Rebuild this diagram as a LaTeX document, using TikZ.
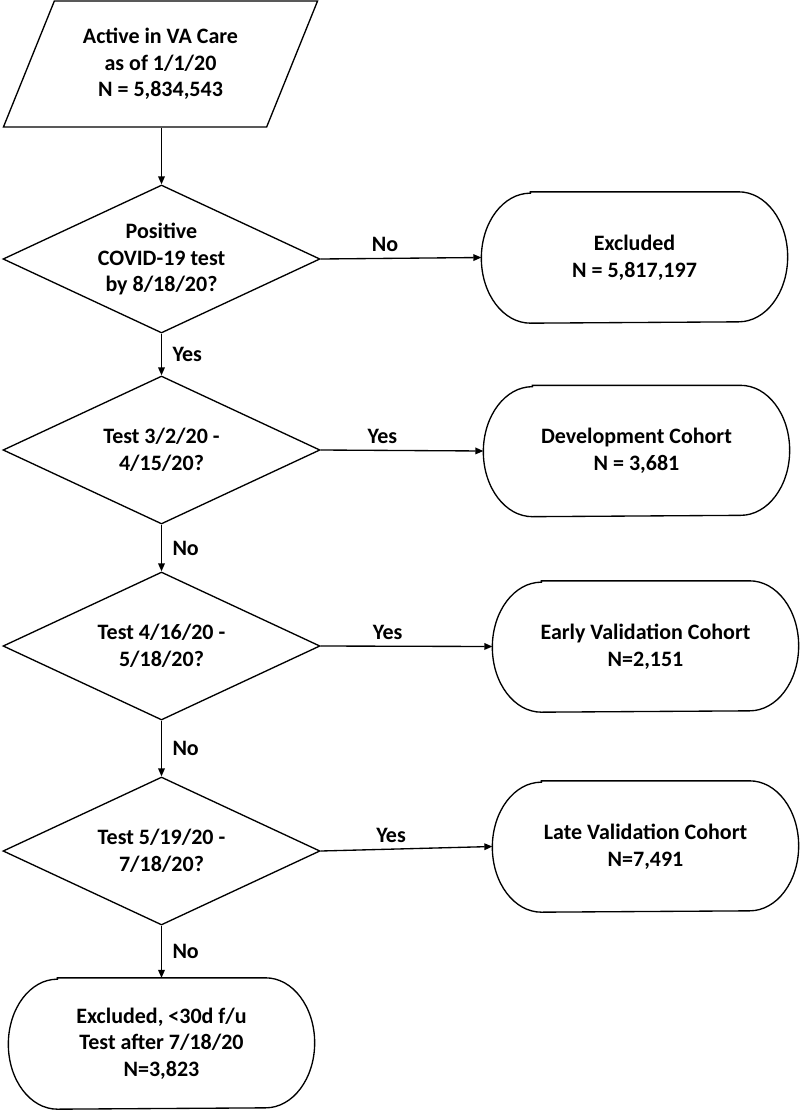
\documentclass[tikz,border=0pt]{standalone}
\usepackage{fontspec}
\setmainfont{Carlito}
\usepackage{tikz}
\usetikzlibrary{shapes.geometric,arrows.meta}

\tikzset{
	txt/.style={font=\fontsize{16.5}{20}\selectfont\bfseries, align=center},
	decision/.style={txt, draw, diamond, aspect=2.14, inner sep=0pt, minimum width=237.75pt, minimum height=111pt},
	term/.style={txt, rectangle, inner sep=0pt, minimum width=228.75pt, minimum height=97.5pt},
	inbox/.style={txt, draw, trapezium, trapezium left angle=64, trapezium right angle=116, trapezium stretches=true, minimum width=236.25pt, minimum height=94.5pt},
	flow/.style={-{Triangle[length=6pt,width=5pt]}},
	lbl/.style={font=\fontsize{16.5}{20}\selectfont\bfseries, inner sep=0.75pt}
}

\begin{document}
\begin{tikzpicture}[x=0.75pt,y=0.75pt,yscale=-1,xscale=1,line width=1pt]
	\useasboundingbox (0,0) rectangle (800,1110);
	
	%Input
	\node [inbox] (start) at (160.5,64) {Active in VA Care\\as of 1/1/20\\N = 5,834,543};
	%Decisions
	\node [decision] (dA) at (161.5,259) {Positive\\COVID-19 test\\by 8/18/20?};
	\node [decision] (dB) at (161.5,450) {Test 3/2/20 -\\4/15/20?};
	\node [decision] (dC) at (161.5,646) {Test 4/16/20 -\\5/18/20?};
	\node [decision] (dD) at (161.5,851) {Test 5/19/20 -\\7/18/20?};
	%Terminators
	\node [term] (excl) at (634.5,257.5) {Excluded\\N = 5,817,197};
	\node [term] (dev) at (636.5,451) {Development Cohort\\N = 3,681};
	\node [term] (early) at (645.5,646.5) {Early Validation Cohort\\N=2,151};
	\node [term] (late) at (645.5,846.5) {Late Validation Cohort\\N=7,491};
	\node [term] (tail) at (161.5,1043.5) {Excluded, <30d f/u\\Test after 7/18/20\\N=3,823};
	
	\foreach \n in {excl,dev,early,late,tail}{
		\draw ([xshift=36.75pt]\n.north west) -- ([xshift=-36.75pt]\n.north east)
			arc[start angle=-90,end angle=90,x radius=36.75pt,y radius=48.75pt]
			-- ([xshift=36.75pt]\n.south west)
			arc[start angle=90,end angle=270,x radius=36.75pt,y radius=48.75pt] -- cycle;
	}
	
	%Down arrows
	\draw [flow] (dA.north |- start.south) -- (dA.north);
	\draw [flow] (dA.south) -- node [lbl, right=7pt] {Yes} (dB.north);
	\draw [flow] (dB.south) -- node [lbl, right=7pt] {No} (dC.north);
	\draw [flow] (dC.south) -- node [lbl, right=7pt] {No} (dD.north);
	\draw [flow] (dD.south) -- node [lbl, right=7pt] {No} (tail.north);
	%Side arrows
	\draw [flow] (dA.east) -- node [lbl, pos=0.4, above=4pt] {No} (excl.west);
	\draw [flow] (dB.east) -- node [lbl, pos=0.38, above=4pt] {Yes} (dev.west);
	\draw [flow] (dC.east) -- node [lbl, pos=0.39, above=4pt] {Yes} (early.west);
	\draw [flow] (dD.east) -- node [lbl, pos=0.41, above=4pt] {Yes} (late.west);
	
\end{tikzpicture}
\end{document}
